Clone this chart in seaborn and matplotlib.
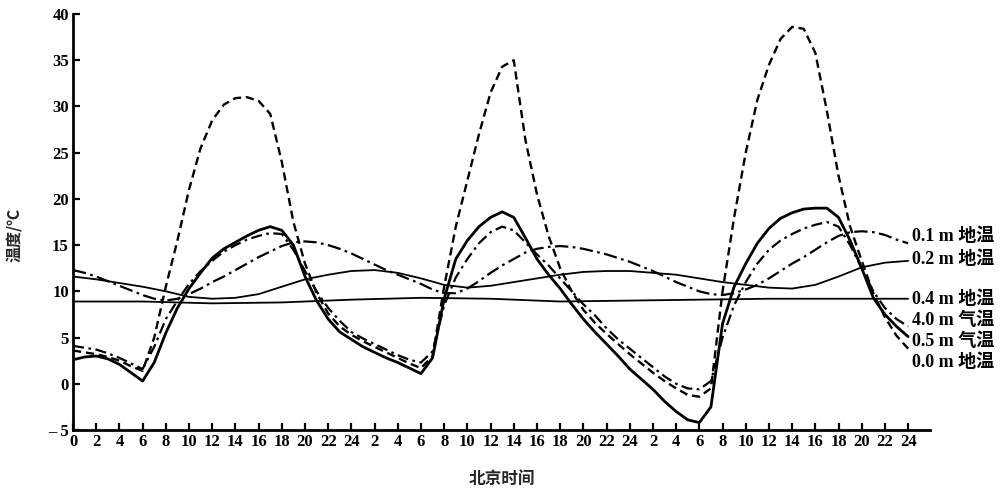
import numpy as np
import pandas as pd
import matplotlib
matplotlib.use("Agg")
import matplotlib.pyplot as plt
import seaborn as sns

# ---- data: hourly temperatures over three days (hours 0..72) ----
hours = list(range(0, 73))

t_ground_00 = [3.6, 3.4, 3.2, 2.9, 2.5, 1.9, 1.4, 5.0, 10.5, 15.5,
               21.0, 25.5, 28.5, 30.2, 30.9, 31.0, 30.6, 29.2, 24.0, 17.5,
               13.0, 9.8, 7.6, 6.2, 5.3, 4.6, 4.0, 3.4, 2.8, 2.2,
               1.7, 3.0, 10.5, 17.0, 22.0, 27.0, 31.5, 34.3, 35.0, 26.4,
               20.5, 16.0, 12.5, 10.0, 8.0, 6.6, 5.4, 4.3, 3.2, 2.2,
               1.2, 0.3, -0.5, -1.2, -1.4, -0.5, 10.0, 18.0, 25.0, 30.7,
               34.5, 37.3, 38.6, 38.4, 35.8, 29.5, 22.5, 17.0, 13.3, 9.8,
               7.2, 5.2, 3.8]

t_air_05 = [2.6, 2.9, 3.0, 2.7, 2.1, 1.2, 0.3, 2.3, 5.5, 8.2,
            10.3, 12.0, 13.6, 14.6, 15.3, 16.0, 16.6, 17.0, 16.6, 15.0,
            11.6, 9.0, 7.0, 5.6, 4.8, 4.0, 3.4, 2.8, 2.3, 1.7,
            1.1, 2.8, 9.2, 13.5, 15.5, 17.0, 18.0, 18.6, 18.0, 15.8,
            13.5, 11.8, 10.3, 8.6, 7.0, 5.6, 4.3, 3.0, 1.6, 0.5,
            -0.6, -1.9, -3.0, -3.9, -4.2, -2.5, 6.5, 10.5, 13.0, 15.2,
            16.8, 17.9, 18.5, 18.9, 19.0, 19.0, 18.0, 15.5, 12.5, 9.3,
            7.5, 6.2, 5.1]

t_air_40 = [4.1, 3.9, 3.7, 3.3, 2.8, 2.2, 1.6, 4.0, 7.0, 9.0,
            10.8, 12.2, 13.3, 14.3, 15.0, 15.6, 16.0, 16.3, 16.2, 14.5,
            12.2, 10.0, 8.2, 6.8, 5.6, 4.9, 4.3, 3.7, 3.1, 2.6,
            2.3, 3.5, 8.5, 11.5, 13.5, 15.2, 16.4, 17.0, 16.6, 15.3,
            14.0, 12.8, 11.4, 10.0, 8.6, 7.4, 6.0, 4.8, 3.8, 2.8,
            1.8, 0.8, 0.0, -0.5, -0.6, 0.3, 5.0, 8.5, 11.0, 13.0,
            14.5, 15.5, 16.2, 16.8, 17.2, 17.5, 17.0, 15.0, 12.5, 10.0,
            8.2, 7.0, 6.2]

t_ground_01 = [12.3, 12.0, 11.6, 11.1, 10.6, 10.1, 9.6, 9.2, 9.0, 9.2,
               9.7, 10.3, 11.0, 11.6, 12.3, 13.0, 13.7, 14.3, 14.9, 15.3,
               15.4, 15.3, 15.0, 14.6, 14.1, 13.5, 12.9, 12.3, 11.8, 11.3,
               10.8, 10.2, 9.8, 9.8, 10.3, 11.1, 12.0, 12.8, 13.5, 14.2,
               14.6, 14.8, 14.9, 14.8, 14.6, 14.3, 14.0, 13.6, 13.2, 12.7,
               12.2, 11.6, 11.0, 10.5, 10.0, 9.7, 9.6, 9.8, 10.2, 10.7,
               11.4, 12.2, 13.0, 13.7, 14.5, 15.3, 16.0, 16.4, 16.5, 16.4,
               16.1, 15.6, 15.2]

hours_2h = list(range(0, 73, 2))
t_ground_02 = [11.6, 11.3, 10.9, 10.5, 10.0, 9.4, 9.2, 9.3, 9.7, 10.5,
               11.3, 11.8, 12.2, 12.3, 12.0, 11.4, 10.7, 10.4, 10.6, 11.0,
               11.4, 11.8, 12.1, 12.2, 12.2, 12.0, 11.8, 11.4, 11.0, 10.7,
               10.4, 10.3, 10.7, 11.6, 12.6, 13.1, 13.3]

hours_6h = list(range(0, 73, 6))
t_ground_04 = [8.9, 8.9, 8.7, 8.8, 9.1, 9.3, 9.2, 8.9, 9.0, 9.1, 9.2, 9.2, 9.2]

series_labels = ["0.1 m 地温", "0.2 m 地温", "0.4 m 地温",
                 "4.0 m 气温", "0.5 m 气温", "0.0 m 地温"]
label_y = [16.0, 13.5, 9.2, 6.9, 4.6, 2.3]

x_ticks = list(range(0, 73, 2))
x_ticklabels = ["0"] + [str(h % 24 if h % 24 else 24) for h in x_ticks[1:]]
y_ticks = list(range(-5, 41, 5))
y_ticklabels = ["– 5"] + [str(v) for v in y_ticks[1:]]

# ---- figure ----
sns.set_theme(style="ticks")
plt.rcParams["font.family"] = ["Liberation Serif", "Noto Sans CJK SC", "DejaVu Sans"]

fig = plt.figure(figsize=(10.06, 4.95), dpi=100)
ax = fig.add_axes([0.0726, 0.1313, 0.852, 0.8404])

ink = "black"
sns.lineplot(x=hours_6h, y=t_ground_04, ax=ax, color=ink, lw=1.3, linestyle="-")
sns.lineplot(x=hours_2h, y=t_ground_02, ax=ax, color=ink, lw=1.3, linestyle="-")
sns.lineplot(x=hours, y=t_ground_01, ax=ax, color=ink, lw=1.6,
             linestyle=(0, (6, 2, 1.2, 2)))
sns.lineplot(x=hours, y=t_air_40, ax=ax, color=ink, lw=1.6,
             linestyle=(0, (5, 2, 1.2, 2)))
sns.lineplot(x=hours, y=t_air_05, ax=ax, color=ink, lw=2.0, linestyle="-")
sns.lineplot(x=hours, y=t_ground_00, ax=ax, color=ink, lw=1.7,
             linestyle=(0, (3.5, 2)))

ax.set_xlim(0, 73.9)
ax.set_ylim(-5, 40)
ax.set_xticks(x_ticks)
ax.set_xticklabels(x_ticklabels, fontsize=12, fontweight="bold")
ax.set_yticks(y_ticks)
ax.set_yticklabels(y_ticklabels, fontsize=12, fontweight="bold")
ax.tick_params(direction="in", length=5, width=1.6, colors=ink, pad=3)

for side in ("top", "right"):
    ax.spines[side].set_visible(False)
for side in ("left", "bottom"):
    ax.spines[side].set_linewidth(2.0)
    ax.spines[side].set_color(ink)

ax.set_xlabel("北京时间", fontsize=12, fontweight="bold",
              family=["Noto Sans CJK SC"], labelpad=14)
ax.set_ylabel("温度/℃", fontsize=11.5, fontweight="bold",
              family=["Noto Sans CJK SC", "DejaVu Sans"])
ax.yaxis.set_label_coords(-0.058, 0.47)

for text, yv in zip(series_labels, label_y):
    ax.text(72.3, yv, text, fontsize=13, fontweight="bold", ha="left",
            va="center", color=ink, clip_on=False,
            family=["Liberation Serif", "Noto Sans CJK SC"])

fig.savefig("out.png", dpi=100, facecolor="white")
